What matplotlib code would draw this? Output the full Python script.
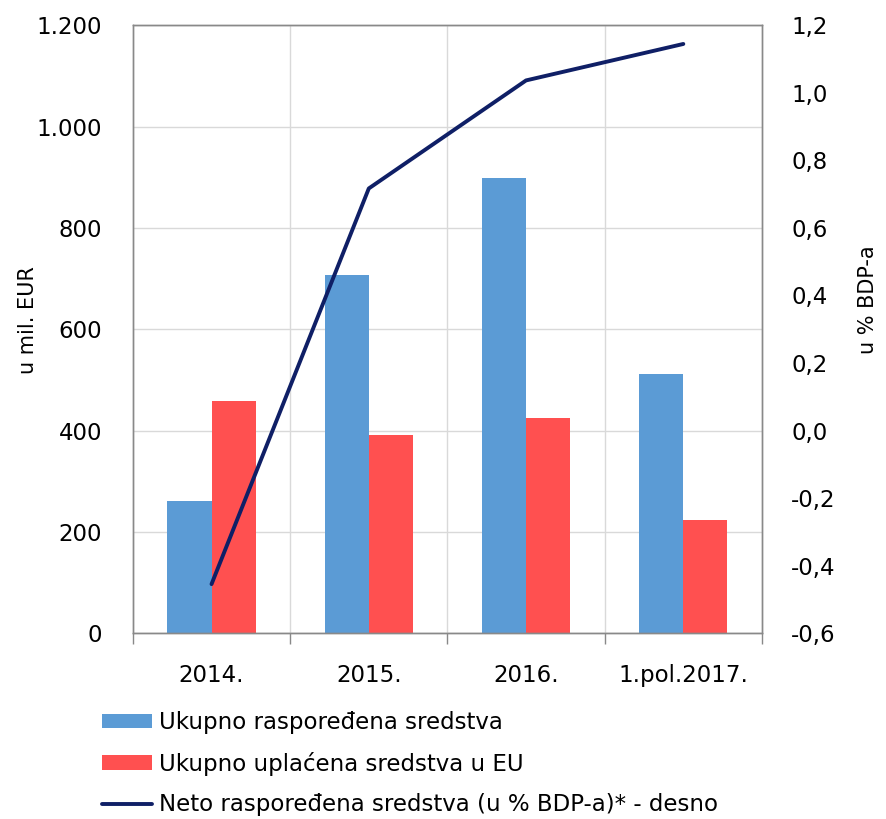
import matplotlib
matplotlib.use('Agg')
import matplotlib.pyplot as plt
import numpy as np
from matplotlib.ticker import FuncFormatter, FixedLocator

plt.rcParams['font.family'] = ['DejaVu Sans']

categories = ['2014.', '2015.', '2016.', '1.pol.2017.']
rasporedena = [260, 708, 898, 511]      # u mil. EUR
uplacena = [458, 391, 424, 223]         # u mil. EUR
neto_bdp = [-0.455, 0.717, 1.037, 1.145]  # u % BDP-a, desno

labels = ['Ukupno raspoređena sredstva',
          'Ukupno uplaćena sredstva u EU',
          'Neto raspoređena sredstva (u % BDP-a)* - desno']

blue = '#5B9BD5'
red = '#FF5050'
navy = '#0F1F66'
grid_c = '#D9D9D9'
spine_c = '#898989'
fs = 16.5

fig = plt.figure(figsize=(8.86, 8.19), dpi=100)
ax = fig.add_axes([0.150, 0.227, 0.710, 0.742])
ax2 = ax.twinx()

x = np.arange(len(categories))
w = 0.28
b1 = ax.bar(x - w / 2, rasporedena, w, color=blue, zorder=2, label=labels[0])
b2 = ax.bar(x + w / 2, uplacena, w, color=red, zorder=2, label=labels[1])
ln, = ax2.plot(x, neto_bdp, color=navy, lw=2.8, label=labels[2], solid_capstyle='round')

ax.set_xlim(-0.5, len(categories) - 0.5)
ax.set_ylim(0, 1200)
ax.set_yticks(np.arange(0, 1201, 200))
ax.yaxis.set_major_formatter(FuncFormatter(lambda v, p: f'{v:,.0f}'.replace(',', '.')))
ax2.set_ylim(-0.6, 1.2)
ax2.set_yticks(np.linspace(-0.6, 1.2, 10))
ax2.yaxis.set_major_formatter(FuncFormatter(lambda v, p: f'{v:.1f}'.replace('.', ',').replace('-0,0', '0,0')))

# category labels in the middle, ticks and vertical grid on the boundaries
ax.set_xticks(x)
ax.set_xticklabels(categories)
ax.tick_params(axis='x', which='major', length=0, pad=22, labelsize=fs)
ax.xaxis.set_minor_locator(FixedLocator(np.arange(-0.5, len(categories), 1.0)))
ax.tick_params(axis='x', which='minor', length=8, color=spine_c, width=1)
for b in np.arange(0.5, len(categories) - 0.5, 1.0):
    ax.axvline(b, color=grid_c, lw=1, zorder=0)

ax.yaxis.grid(True, color=grid_c, lw=1, zorder=0)
ax.set_axisbelow(True)
ax.tick_params(axis='y', length=0, pad=22, labelsize=fs)
ax2.tick_params(axis='y', length=0, pad=21, labelsize=fs)

for a in (ax, ax2):
    for s in a.spines.values():
        s.set_color(spine_c)
        s.set_linewidth(1)

fig.text(28 / 886, 1 - 320 / 819, 'u mil. EUR', rotation=90, ha='center', va='center', fontsize=15)
fig.text(868 / 886, 1 - 300 / 819, 'u % BDP-a', rotation=90, ha='center', va='center', fontsize=15)

fig.legend(handles=[b1, b2, ln], labels=labels, loc='upper left',
           bbox_to_anchor=(102 / 886, 1 - 711 / 819), frameon=False, fontsize=fs,
           handlelength=2.2, handleheight=0.6, handletextpad=0.3,
           labelspacing=0.77, borderpad=0, borderaxespad=0)

fig.savefig('out.png', dpi=100)
